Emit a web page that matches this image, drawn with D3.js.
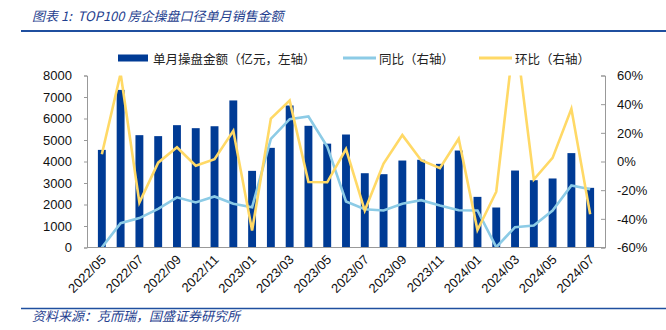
<!DOCTYPE html>
<html>
<head>
<meta charset="utf-8">
<script src="https://cdn.jsdelivr.net/npm/d3@7"></script>
<style>
  body { margin: 0; background: #fff; }
  svg { display: block; }
</style>
</head>
<body>
<svg id="chart" width="666" height="330"></svg>
<script>
// months on the x axis
const months = ["2022/05","2022/06","2022/07","2022/08","2022/09","2022/10","2022/11","2022/12",
  "2023/01","2023/02","2023/03","2023/04","2023/05","2023/06","2023/07","2023/08","2023/09",
  "2023/10","2023/11","2023/12","2024/01","2024/02","2024/03","2024/04","2024/05","2024/06","2024/07"]

// monthly sales, 亿元 (left axis)
const sales = [4540, 7330, 5225, 5180, 5690, 5550, 5640, 6840, 3565, 4635, 6605, 5660, 4830,
  5255, 3455, 3410, 4045, 4080, 3890, 4510, 2355, 1860, 3580, 3130, 3210, 4390, 2775]

// year on year, % (right axis)
const yoy = [-60, -43, -39.5, -33, -25, -28.6, -24.4, -29.5, -31.9, 15.8, 29.5, 31.4, 10.5,
  -27.9, -33.3, -34.2, -29.5, -27, -30.7, -34, -34.2, -59.8, -45.8, -44.7, -34.2, -16.7, -19.3]

// month on month, % (right axis)
const mom = [5.1, 61.4, -28.7, -0.8, 9.9, -2.9, 1.6, 21.4, -48.1, 29.9, 42.5, -14.3, -14.5,
  8.7, -34.2, -1.4, 18.4, 0.9, -4.6, 15.9, -47.8, -21.1, 92.5, -12.6, 2.5, 36.8, -36.8]

const leftTicks = [0, 1000, 2000, 3000, 4000, 5000, 6000, 7000, 8000]
const rightTicks = [-60, -40, -20, 0, 20, 40, 60]

const barColor = "#003b95"
const yoyColor = "#8ccbe6"
const momColor = "#ffd966"
const ruleColor = "#1f4f9f"
const cjk = "'Noto Sans CJK SC', sans-serif"
const num = "'Liberation Sans', Arial, sans-serif"

const svg = d3.select("#chart")

// plot area
const plotL = 87, plotR = 605, plotT = 75.5, plotB = 247.5

const x = d3.scaleBand().domain(months).range([plotL, plotR]).padding(0.58)
const yL = d3.scaleLinear().domain([0, 8000]).range([plotB, plotT])
const yR = d3.scaleLinear().domain([-60, 60]).range([plotB, plotT])
const cx = m => x(m) + x.bandwidth() / 2

// header and footer
svg.append("text").attr("x", 32).attr("y", 21).text("图表 1:\u00a0 TOP100 房企操盘口径单月销售金额")
  .style("font-family", cjk).style("font-size", "13px").style("font-style", "italic")
  .attr("fill", "#1f3f8f")
svg.append("line").attr("x1", 21).attr("x2", 666).attr("y1", 31).attr("y2", 31)
  .attr("stroke", ruleColor).attr("stroke-width", 2)
svg.append("line").attr("x1", 21).attr("x2", 666).attr("y1", 308.5).attr("y2", 308.5)
  .attr("stroke", ruleColor).attr("stroke-width", 1.5)
svg.append("text").attr("x", 32).attr("y", 321).text("资料来源：克而瑞，国盛证券研究所")
  .style("font-family", cjk).style("font-size", "13px").style("font-style", "italic")
  .attr("fill", "#1f3f8f")

// legend
const legY = 58
const legend = svg.append("g")
legend.append("rect").attr("x", 118).attr("y", legY - 3.5).attr("width", 30).attr("height", 7).attr("fill", barColor)
legend.append("text").attr("x", 153).attr("y", legY).text("单月操盘金额（亿元，左轴）")
legend.append("line").attr("x1", 343).attr("x2", 376).attr("y1", legY).attr("y2", legY)
  .attr("stroke", yoyColor).attr("stroke-width", 3)
legend.append("text").attr("x", 379).attr("y", legY).text("同比（右轴）")
legend.append("line").attr("x1", 479).attr("x2", 512).attr("y1", legY).attr("y2", legY)
  .attr("stroke", momColor).attr("stroke-width", 3)
legend.append("text").attr("x", 515).attr("y", legY).text("环比（右轴）")
legend.selectAll("text")
  .style("font-family", cjk).style("font-size", "12.5px").attr("dominant-baseline", "central")
  .attr("fill", "#222")

// bars
svg.append("g").selectAll("rect")
  .data(sales)
  .join("rect")
    .attr("x", (d, i) => x(months[i]))
    .attr("width", x.bandwidth())
    .attr("y", d => yL(d))
    .attr("height", d => yL(0) - yL(d))
    .attr("fill", barColor)

// lines, clipped to the plot box
svg.append("clipPath").attr("id", "plotClip")
  .append("rect").attr("x", plotL).attr("y", plotT).attr("width", plotR - plotL).attr("height", plotB - plotT)

const line = d3.line().x((d, i) => cx(months[i])).y(d => yR(d))

const lines = svg.append("g").attr("clip-path", "url(#plotClip)")
lines.append("path").datum(yoy).attr("d", line)
  .attr("fill", "none").attr("stroke", yoyColor).attr("stroke-width", 2.6)
lines.append("path").datum(mom).attr("d", line)
  .attr("fill", "none").attr("stroke", momColor).attr("stroke-width", 2.6)

// axes
const axL = svg.append("g").attr("transform", `translate(${plotL},0)`)
  .call(d3.axisLeft(yL).tickValues(leftTicks).tickFormat(d3.format("d")).tickSize(3).tickPadding(12))
const axR = svg.append("g").attr("transform", `translate(${plotR},0)`)
  .call(d3.axisRight(yR).tickValues(rightTicks).tickFormat(d => d + "%").tickSize(-4).tickPadding(12))
const axB = svg.append("g").attr("transform", `translate(0,${plotB})`)
  .call(d3.axisBottom(x).tickValues(months.filter((m, i) => i % 2 == 0)).tickSize(0).tickPadding(0))

for (const ax of [axL, axR, axB]) {
  ax.select(".domain").attr("stroke", "#999")
  ax.selectAll(".tick line").attr("stroke", "#999")
  ax.selectAll("text").style("font-family", num).style("font-size", "13px").attr("fill", "#111")
}
axB.select(".domain").attr("d", `M${plotL},0H${plotR}`)
axB.selectAll("text")
  .attr("text-anchor", "end")
  .attr("dy", "0")
  .attr("y", 0)
  .attr("transform", "translate(5,13) rotate(-45)")
</script>
</body>
</html>
